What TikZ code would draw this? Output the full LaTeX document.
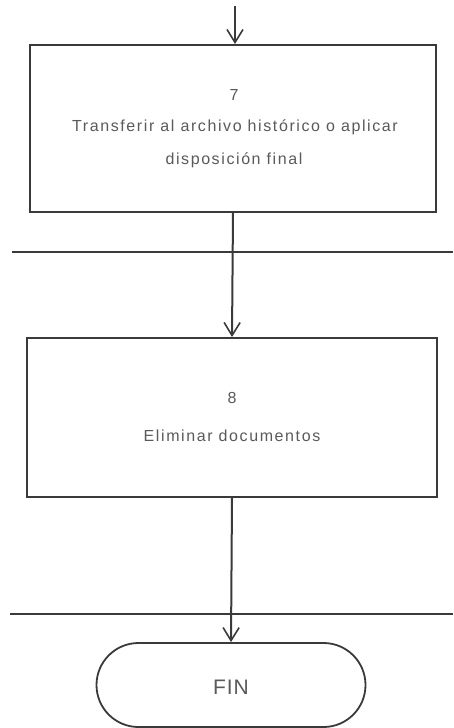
\documentclass[tikz,border=0pt]{standalone}
\usepackage{fontspec}
\setmainfont{Liberation Sans}
\usetikzlibrary{arrows.meta,shapes.misc}
\definecolor{ln}{HTML}{3A3A3A}
\definecolor{tx}{HTML}{5A5A5A}
\tikzset{
  x={(1pt,0)}, y={(0,-1pt)},
  procbox/.style={draw=ln, line width=2pt, rectangle, inner sep=0pt},
  term/.style={draw=ln, line width=1.8pt, rounded rectangle, minimum width=269pt, minimum height=84pt, inner sep=0pt},
  flow/.style={draw=ln, line width=2pt, -{Straight Barb[length=13pt,width=16pt,line width=1.6pt]}},
  lane/.style={draw=ln, line width=2pt},
  lbl/.style={text=tx, font=\fontsize{16}{20}\selectfont\addfontfeature{LetterSpace=10}, inner sep=0pt}
}
\begin{document}
\begin{tikzpicture}
\useasboundingbox (0,0) rectangle (453,728);
\fill[white] (0,0) rectangle (453,728);
% swimlane lines
\coordinate (l1a) at (12,252); \coordinate (l1b) at (453,252);
\coordinate (l2a) at (10,614); \coordinate (l2b) at (453,614);
\draw[lane] (l1a) -- (l1b);
\draw[lane] (l2a) -- (l2b);
% boxes
\node[procbox, minimum width=406pt, minimum height=167pt] (b7) at (233,128.5) {};
\node[lbl] (t7a) at (234,95) {7};
\node[lbl] (t7b) at (235,127) {Transferir al archivo histórico o aplicar};
\node[lbl] (t7c) at (234,160) {disposición final};
\node[procbox, minimum width=410pt, minimum height=159pt] (b8) at (232,417.5) {};
\node[lbl] (t8a) at (232,398) {8};
\node[lbl] (t8b) at (232,436) {Eliminar documentos};
\node[term] (fin) at (231,685) {};
\node[text=tx, font=\fontsize{21}{24}\selectfont\addfontfeature{LetterSpace=4}, inner sep=0pt] (tfin) at (231,687) {FIN};
% connectors
\coordinate (start) at (235,6);
\draw[flow] (start) -- (b7.north -| start);
\draw[flow] (b7.south) -- (b8.north);
\draw[flow] (b8.south) -- (fin.north);
\end{tikzpicture}
\end{document}
